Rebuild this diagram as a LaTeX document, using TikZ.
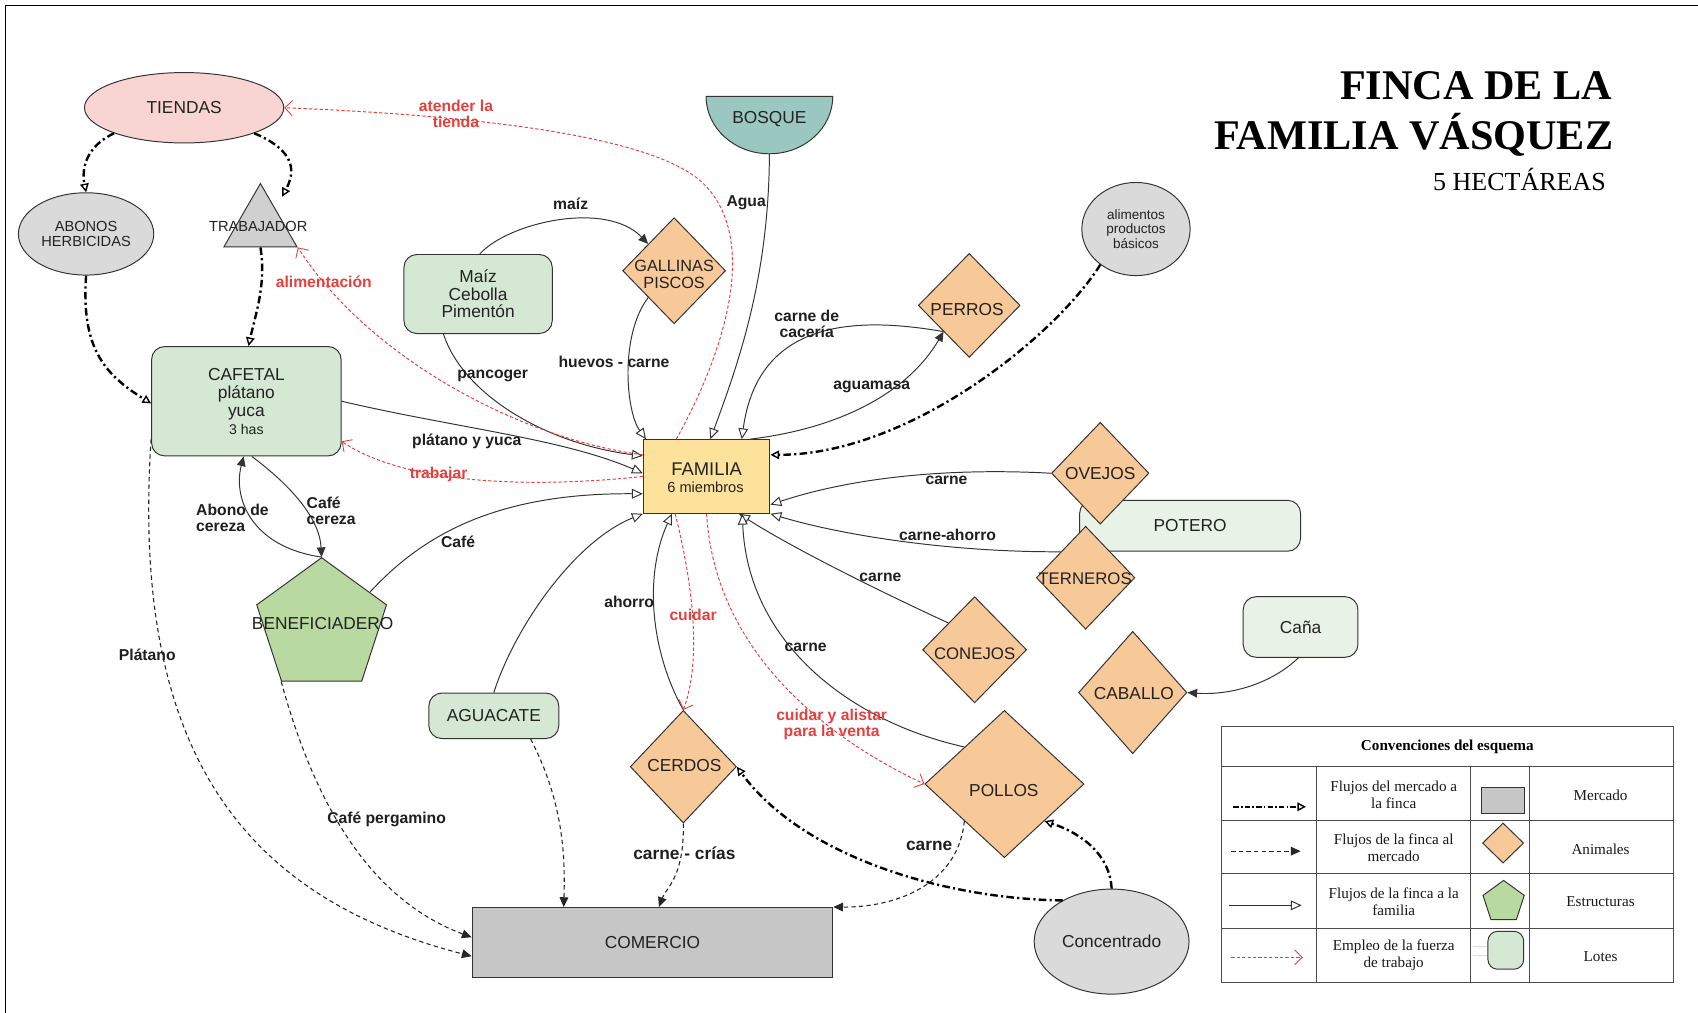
\documentclass[tikz,border=0pt]{standalone}
\usepackage{fontspec}
\setmainfont{Liberation Sans}
\newfontfamily\tnr{Liberation Serif}
\usetikzlibrary{arrows.meta,shapes.geometric}

\newcommand{\fsz}[2]{\fontsize{#1}{#2}\selectfont}

\definecolor{ink}{HTML}{333333}
\definecolor{txt}{HTML}{222222}
\definecolor{lotegreen}{HTML}{D5E8D4}
\definecolor{lotepale}{HTML}{E9F2E6}
\definecolor{animalorange}{HTML}{F7C898}
\definecolor{famyellow}{HTML}{FCE29B}
\definecolor{marketgray}{HTML}{C6C6C6}
\definecolor{softgray}{HTML}{DADADA}
\definecolor{trigray}{HTML}{D0D0D0}
\definecolor{shoppink}{HTML}{F8D5D2}
\definecolor{forestteal}{HTML}{9AC7BF}
\definecolor{pentgreen}{HTML}{B8DAA0}
\definecolor{laborred}{HTML}{E5403E}

\begin{document}
\begin{tikzpicture}[x=1pt, y=-1pt,
  shapebase/.style={draw=ink, line width=0.9pt, inner sep=0pt, text=txt, font=\fsz{16}{17}, align=center},
  lote/.style={shapebase, rectangle, rounded corners=12pt, fill=lotegreen},
  lotelight/.style={lote, fill=lotepale},
  animal/.style={shapebase, diamond, fill=animalorange},
  nodetext/.style={inner sep=0pt, text=txt, font=\fsz{16}{17}, align=center},
  lbl/.style={inner sep=0pt, text=black!88, font=\bfseries\fsz{14.5}{15}, align=center},
  rlbl/.style={lbl, text=laborred},
  famflow/.style={draw=ink, line width=0.9pt, -{Triangle[length=10pt, width=9pt, fill=white]}},
  give/.style={draw=ink, line width=0.9pt, -{Triangle[length=9pt, width=8pt]}},
  buy/.style={draw=black, line width=2.2pt, dash pattern=on 7pt off 3pt on 2pt off 3pt, -{Triangle[open, length=8pt, width=8pt, line width=1.3pt]}},
  sell/.style={draw=black!85, line width=1pt, dash pattern=on 4pt off 3pt, -{Triangle[length=9pt, width=8pt]}},
  labour/.style={draw=laborred, line width=0.9pt, dash pattern=on 3pt off 2pt, -{Straight Barb[length=7pt, width=14pt, line width=0.8pt]}},
  legtext/.style={inner sep=0pt, font=\tnr\fsz{14}{16}, align=center, text=black!90},
]
\useasboundingbox (0,0) rectangle (1568,935);
\fill[white] (0,0) rectangle (1568,935);
\draw[line width=1.6pt] (5,935) -- (5,5) -- (1568,5);

% ---------- title ----------
\node[anchor=base east, inner sep=0pt, font=\tnr\bfseries\fsz{39}{40}] (title1) at (1489,92) {FINCA DE LA};
\node[anchor=base east, inner sep=0pt, font=\tnr\bfseries\fsz{39}{40}] (title2) at (1490,138) {FAMILIA VÁSQUEZ};
\node[anchor=base east, inner sep=0pt, font=\tnr\fsz{24}{25}] (title3) at (1483,176) {5 HECTÁREAS};

% ---------- lots ----------
\node[lotelight, minimum width=204pt, minimum height=47pt] (potero) at (1099,485.5) {POTERO};
\node[lotelight, minimum width=106pt, minimum height=56pt] (cana) at (1201,579) {Caña};
\node[lote, minimum width=137pt, minimum height=73pt, font=\fsz{16}{16}] (maiz) at (441.5,271.5) {Maíz\\Cebolla\\Pimentón};
\node[lote, minimum width=175pt, minimum height=101pt, font=\fsz{16}{16.5}] (cafetal) at (227.5,370.5) {CAFETAL\\plátano\\yuca\\{\fsz{13}{13}3 has}};
\node[lote, minimum width=120pt, minimum height=42pt] (aguacate) at (456,661) {AGUACATE};

% ---------- market ----------
\node[shapebase, ellipse, fill=shoppink, minimum width=184pt, minimum height=65pt] (tiendas) at (170,99.5) {TIENDAS};
\node[shapebase, ellipse, fill=softgray, minimum width=125pt, minimum height=76pt, font=\fsz{13.5}{14}] (abonos) at (79.5,216) {ABONOS\\HERBICIDAS};
\node[shapebase, regular polygon, regular polygon sides=3, minimum size=78pt, fill=trigray] (trab) at (240.5,208.5) {};
\node[nodetext, font=\fsz{13.5}{14}] (trabT) at (238.5,209) {TRABAJADOR};
\node[shapebase, ellipse, fill=softgray, minimum width=100pt, minimum height=86pt, font=\fsz{12.5}{13.5}] (alim) at (1049,211.5) {alimentos\\productos\\básicos};
\node[shapebase, rectangle, fill=marketgray, minimum width=333pt, minimum height=65pt] (comercio) at (602.5,870.5) {COMERCIO};
\node[shapebase, ellipse, fill=softgray, minimum width=143pt, minimum height=97pt] (conc) at (1026.5,869.5) {Concentrado};

% ---------- forest ----------
\filldraw[fill=forestteal, draw=ink, line width=0.9pt] (652,89) -- (769,89) arc[start angle=0, end angle=-180, x radius=58.5pt, y radius=53pt] -- cycle;
\node[inner sep=0pt, minimum width=117pt, minimum height=53pt] (bosque) at (710.5,115.5) {};
\node[nodetext] (bosqueT) at (710.5,110) {BOSQUE};

% ---------- family ----------
\node[shapebase, rectangle, fill=famyellow, minimum width=117pt, minimum height=68pt] (fam) at (652.5,440) {};
\node[nodetext, font=\fsz{17}{17}] (famT) at (652.5,433) {FAMILIA};
\node[nodetext, font=\fsz{13.5}{14}] (famS) at (651.5,449.5) {6 miembros};

% ---------- animals ----------
\node[animal, minimum width=95pt, minimum height=98pt] (gall) at (622.5,250) {};
\node[nodetext, font=\fsz{15}{15}] (gallT) at (622.5,253.5) {GALLINAS\\PISCOS};
\node[animal, minimum width=94pt, minimum height=96pt] (perros) at (895,282) {};
\node[nodetext] (perrosT) at (893,286) {PERROS};
\node[animal, minimum width=90pt, minimum height=94pt] (ovejos) at (1016,437) {};
\node[nodetext] (ovejosT) at (1016,437) {OVEJOS};
\node[animal, minimum width=91pt, minimum height=95pt] (tern) at (1002.5,533.5) {};
\node[nodetext, font=\fsz{15.5}{16}] (ternT) at (1002,534) {TERNEROS};
\node[animal, minimum width=96pt, minimum height=98pt] (conejos) at (900,600) {};
\node[nodetext, font=\fsz{15.5}{16}] (conejosT) at (900,604) {CONEJOS};
\node[animal, minimum width=100pt, minimum height=113pt] (caballo) at (1046,639.5) {};
\node[nodetext] (caballoT) at (1047,640) {CABALLO};
\node[animal, minimum width=147pt, minimum height=136pt] (pollos) at (927.5,724) {};
\node[nodetext] (pollosT) at (927,730) {POLLOS};
\node[animal, minimum width=98pt, minimum height=104pt] (cerdos) at (631,708) {};
\node[nodetext] (cerdosT) at (632,707) {CERDOS};

% ---------- structure ----------
\node[shapebase, regular polygon, regular polygon sides=5, minimum size=126pt, fill=pentgreen] (benef) at (297,578) {};
\node[nodetext] (benefT) at (298,576) {BENEFICIADERO};

% ---------- flows from the farm to the family ----------
\draw[famflow] ([xshift=-32pt]maiz.south) .. controls (428,365) and (505,410) .. ([yshift=19pt]fam.west);
\draw[famflow] (cafetal.east) .. controls (420,395) and (520,405) .. ([yshift=3pt]fam.west);
\draw[famflow] (benef.35) .. controls (385,500) and (450,455) .. ([yshift=-16pt]fam.west);
\draw[famflow] (aguacate.north) .. controls (475,580) and (530,500) .. (fam.south west);
\draw[famflow] (gall.south west) .. controls (572,310) and (578,380) .. ([xshift=-56pt]fam.north);
\draw[famflow] (bosque.south) .. controls (710,260) and (680,340) .. ([xshift=3.5pt]fam.north);
\draw[famflow] (perros.south west) .. controls (790,292) and (700,295) .. ([xshift=32.5pt]fam.north);
\draw[famflow] (ovejos.west) .. controls (880,432) and (790,440) .. ([yshift=-26pt]fam.east);
\draw[famflow] (tern.north west) .. controls (880,510) and (780,495) .. (fam.south east);
\draw[famflow] (conejos.north west) .. controls (810,545) and (730,505) .. ([xshift=30pt]fam.south);
\draw[famflow] (pollos.north west) .. controls (780,665) and (690,590) .. ([xshift=33pt]fam.south);
\draw[famflow] (cerdos.north) .. controls (600,600) and (595,530) .. ([xshift=-32pt]fam.south);

% ---------- internal flows ----------
\draw[give] ([xshift=1.5pt]maiz.north) .. controls (470,205) and (560,185) .. (gall.north west);
\draw[give] ([xshift=40pt]fam.north) .. controls (780,395) and (840,360) .. (perros.south west);
\draw[give] (benef.corner 1) .. controls (232,505) and (215,460) .. ([xshift=-2.5pt]cafetal.south);
\draw[give] ([xshift=5pt]cafetal.south) .. controls (268,448) and (295,478) .. (benef.corner 1);
\draw[give] ([xshift=-2pt]cana.south) .. controls (1170,635) and (1130,642) .. (caballo.east);

% ---------- flows from the market to the farm ----------
\draw[buy] (tiendas.200) .. controls (80,135) and (75,155) .. (abonos.north);
\draw[buy] (tiendas.-20) .. controls (275,140) and (272,160) .. ([shift={(20pt,-13pt)}]trab.corner 1);
\draw[buy] (trab.south) .. controls (246,262) and (236,290) .. ([xshift=2pt]cafetal.north);
\draw[buy] (abonos.south) .. controls (75,320) and (95,345) .. ([yshift=-2pt]cafetal.west);
\draw[buy] (alim.225) .. controls (975,310) and (840,420) .. ([yshift=20pt]fam.east);
\draw[buy] (conc.140) .. controls (870,830) and (740,790) .. (cerdos.east);
\draw[buy] (conc.north) .. controls (1025,790) and (1000,770) .. (pollos.south east);

% ---------- flows from the farm to the market ----------
\draw[sell] ([yshift=-35pt]cafetal.west) .. controls (120,700) and (230,830) .. ([yshift=-12.5pt]comercio.west);
\draw[sell] (benef.corner 3) .. controls (290,740) and (340,830) .. ([yshift=5pt]comercio.west);
\draw[sell] ([xshift=34pt]aguacate.south) .. controls (520,740) and (522,790) .. ([xshift=-82pt]comercio.north);
\draw[sell] (cerdos.south) .. controls (632,810) and (615,820) .. ([xshift=6pt]comercio.north);
\draw[sell] (pollos.south west) .. controls (885,815) and (830,838) .. (comercio.north east);

% ---------- labour of the family ----------
\draw[labour] ([xshift=-28pt]fam.north) .. controls (672,320) and (700,220) .. (650,170) .. controls (600,120) and (400,105) .. (tiendas.east);
\draw[labour] ([yshift=20pt]fam.west) .. controls (480,405) and (340,330) .. (trab.corner 3);
\draw[labour] (fam.west) .. controls (480,452) and (370,445) .. ([yshift=-37pt]cafetal.east);
\draw[labour] ([xshift=-29pt]fam.south) .. controls (640,540) and (648,610) .. (cerdos.north);
\draw[labour] (fam.south) .. controls (660,600) and (760,680) .. (pollos.west);

% ---------- connector labels ----------
\node[lbl] (l1) at (527,188) {maíz};
\node[lbl] (l2) at (689,187) {Agua};
\node[rlbl] (l3) at (421,105) {atender la\\tienda};
\node[rlbl] (l4) at (299,260) {alimentación};
\node[lbl] (l5) at (455,347) {pancoger};
\node[lbl] (l6) at (567,334) {huevos - carne};
\node[lbl] (l7) at (745,299) {carne de\\cacería};
\node[lbl] (l8) at (805,357) {aguamasa};
\node[lbl] (l9) at (431,408) {plátano y yuca};
\node[rlbl] (l10) at (405,438) {trabajar};
\node[lbl] (l11) at (874,444) {carne};
\node[lbl] (l12) at (875,494) {carne-ahorro};
\node[lbl] (l13) at (813,533) {carne};
\node[lbl, anchor=west, align=left] (l14) at (181,478) {Abono de\\cereza};
\node[lbl, anchor=west, align=left] (l15) at (283,472) {Café\\cereza};
\node[lbl] (l16) at (423,500) {Café};
\node[lbl] (l17) at (581,556) {ahorro};
\node[rlbl] (l18) at (640,568) {cuidar};
\node[lbl] (l19) at (744,598) {carne};
\node[lbl] (l20) at (136,605) {Plátano};
\node[rlbl] (l21) at (768,669) {cuidar y alistar\\para la venta};
\node[lbl] (l22) at (357,757) {Café pergamino};
\node[lbl, font=\bfseries\fsz{16}{17}] (l23) at (632,788) {carne - crías};
\node[lbl, font=\bfseries\fsz{16}{17}] (l24) at (858,781) {carne};

% ---------- legend table ----------
\draw[line width=1pt, draw=black!70] (1128,671) rectangle (1545,907);
\draw[line width=1pt, draw=black!70] (1128,708) -- (1545,708) (1128,758) -- (1545,758)
  (1128,807) -- (1545,807) (1128,857) -- (1545,857)
  (1216,708) -- (1216,907) (1358,708) -- (1358,907) (1412,708) -- (1412,907);
\node[inner sep=0pt, font=\tnr\bfseries\fsz{14}{15}] (legH) at (1336.5,690) {Convenciones del esquema};
\node[legtext] (legA) at (1287,734) {Flujos del mercado a\\la finca};
\node[legtext] (legB) at (1287,783) {Flujos de la finca al\\mercado};
\node[legtext] (legC) at (1287,832.5) {Flujos de la finca a la\\familia};
\node[legtext] (legD) at (1287,882) {Empleo de la fuerza\\de trabajo};
\node[legtext] (legE) at (1478,734) {Mercado};
\node[legtext] (legF) at (1478,784) {Animales};
\node[legtext] (legG) at (1478,833) {Estructuras};
\node[legtext] (legI) at (1478,883) {Lotes};

\coordinate (k1a) at (1139,745); \coordinate (k1b) at (1206,745);
\coordinate (k2a) at (1137,786); \coordinate (k2b) at (1201,786);
\coordinate (k3a) at (1135,836); \coordinate (k3b) at (1202,836);
\coordinate (k4a) at (1137,884); \coordinate (k4b) at (1203,884);
\draw[buy, line width=1.4pt, dash pattern=on 5pt off 2pt on 1.5pt off 2pt] (k1a) -- (k1b);
\draw[sell] (k2a) -- (k2b);
\draw[famflow] (k3a) -- (k3b);
\draw[labour] (k4a) -- (k4b);

\node[shapebase, fill=marketgray, minimum width=39pt, minimum height=24pt] (symA) at (1388,739) {};
\node[animal, minimum width=38pt, minimum height=37pt] (symB) at (1388,778.5) {};
\node[shapebase, regular polygon, regular polygon sides=5, minimum size=40pt, fill=pentgreen] (symC) at (1388.5,833) {};
\draw[black!15, line width=1pt] (1360,874) -- (1373,874) (1360,882) -- (1373,882);
\node[shapebase, rounded corners=9pt, fill=lotegreen, minimum width=33pt, minimum height=35pt] (symD) at (1390.5,877.5) {};
\end{tikzpicture}
\end{document}
